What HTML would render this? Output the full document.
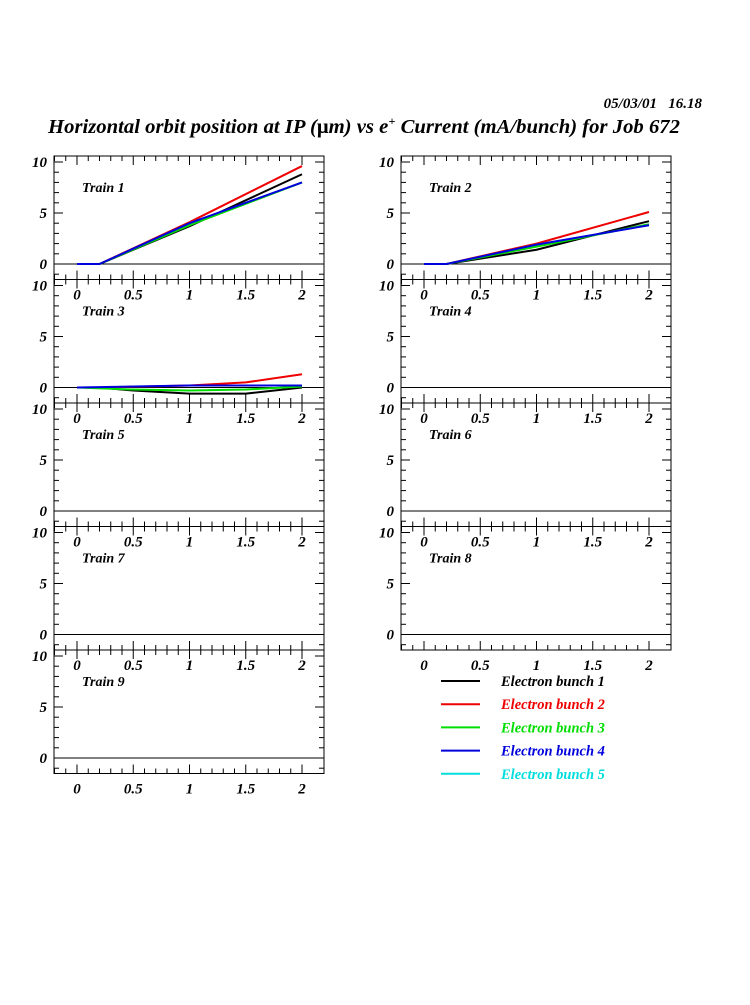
<!DOCTYPE html>
<html><head><meta charset="utf-8"><style>
body{margin:0;background:#fff}
svg text{font-family:"Liberation Serif",serif;font-weight:bold;font-style:italic}
</style></head><body>
<svg id="s" width="750" height="1000" xmlns="http://www.w3.org/2000/svg">
<text x="702" y="108" font-size="15" text-anchor="end" xml:space="preserve">05/03/01   16.18</text>
<text x="48" y="133" font-size="20" textLength="632" lengthAdjust="spacingAndGlyphs">Horizontal orbit position at IP (<tspan font-style="normal">μ</tspan>m) vs e<tspan dy="-8" font-size="12">+</tspan><tspan dy="8"> Current (mA/bunch) for Job 672</tspan></text>
</svg>
<script>
const s=document.getElementById('s');let h='';
const C=['#000','#e00','#0d0','#00d','#0dd'];
function X(l,v){return l+23+v*112.5}
const data={
0:[[0,0,.2,0,1,3.7,2,8.8],[0,0,.2,0,1,4.1,2,9.6],[0,0,.2,0,1,3.8,2,8.0],[0,0,.2,0,1,4.0,2,8.0]],
1:[[0,0,.2,0,1,1.4,2,4.2],[0,0,.2,0,1,2.0,2,5.1],[0,0,.2,0,1,1.7,2,3.9],[0,0,.2,0,1,1.9,2,3.8]],
2:[[0,0,.2,0,.5,-.3,1,-.6,1.5,-.6,2,0],[0,0,.2,0,1,.2,1.5,.5,2,1.3],[0,0,.5,-.2,1,-.3,1.5,-.2,2,.1],[0,0,.5,.1,1,.2,1.5,.2,2,.2]]};
for(let i=0;i<9;i++){
 const col=i%2,row=Math.floor(i/2);
 const l=col?401:54,t=156+row*123.5,w=270,H=123.5,z=t+108;
 h+=`<rect x="${l}" y="${t}" width="${w}" height="${H}" fill="none" stroke="#000" stroke-width="1"/>`;
 h+=`<line x1="${l}" x2="${l+w}" y1="${z}" y2="${z}" stroke="#000"/>`;
 for(let k=-2;k<=20;k++){const v=k/10;const x=X(l,v);if(x<l||x>l+w)continue;const L=k%5==0?9:5;
  h+=`<line x1="${x}" x2="${x}" y1="${t}" y2="${t+L}" stroke="#000"/><line x1="${x}" x2="${x}" y1="${t+H}" y2="${t+H-L}" stroke="#000"/>`;}
 for(let k=-1;k<=11;k++){const y=z-k*10.2;if(y<t||y>t+H)continue;const L=k%5==0?9:5;
  h+=`<line x1="${l}" x2="${l+L}" y1="${y}" y2="${y}" stroke="#000"/><line x1="${l+w}" x2="${l+w-L}" y1="${y}" y2="${y}" stroke="#000"/>`;}
 [0,5,10].forEach(v=>{h+=`<text x="${l-7}" y="${z-v*10.2+5}" font-size="15" text-anchor="end">${v}</text>`});
 h+=`<text x="${l+28}" y="${t+36}" font-size="14">Train ${i+1}</text>`;
 [['0',0],['0.5',.5],['1',1],['1.5',1.5],['2',2]].forEach(a=>{h+=`<text x="${X(l,a[1])}" y="${t+H+20}" font-size="15" text-anchor="middle">${a[0]}</text>`});
 if(data[i])data[i].forEach((d,j)=>{let p=[];for(let q=0;q<d.length;q+=2)p.push(X(l,d[q])+','+(z-d[q+1]*10.2));
  h+=`<polyline points="${p.join(' ')}" fill="none" stroke="${C[j]}" stroke-width="2"/>`});
}
for(let j=0;j<5;j++){const y=681+j*23.2;
 h+=`<line x1="441" x2="480" y1="${y}" y2="${y}" stroke="${C[j]}" stroke-width="2"/><text x="501" y="${y+5}" font-size="14.5" fill="${C[j]}">Electron bunch ${j+1}</text>`;}
s.insertAdjacentHTML('beforeend',h);
</script>
</body></html>
